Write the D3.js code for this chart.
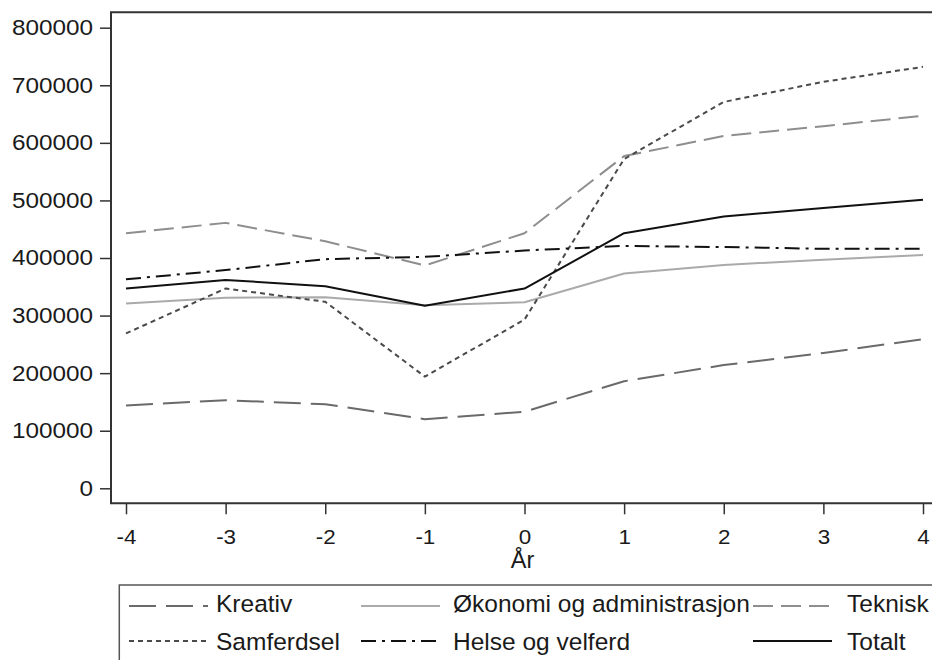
<!DOCTYPE html>
<html>
<head>
<meta charset="utf-8">
<script src="https://cdn.jsdelivr.net/npm/d3@7"></script>
<style>
  html, body { margin: 0; padding: 0; background: #fff; }
  svg { display: block; font-family: "Liberation Sans", Arial, sans-serif; }
</style>
</head>
<body>
<svg id="chart" width="932" height="660"></svg>
<script>
// ---- data ----
const years = [-4, -3, -2, -1, 0, 1, 2, 3, 4];
const kreativ    = [144000, 153000, 146000, 120000, 133000, 186000, 214000, 235000, 259000];
const okonomi    = [321000, 331000, 332000, 318000, 323000, 373000, 388000, 397000, 405000];
const teknisk    = [443000, 461000, 429000, 387000, 443000, 577000, 612000, 629000, 647000];
const samferdsel = [269000, 347000, 324000, 194000, 293000, 572000, 671000, 706000, 732000];
const helse      = [363000, 379000, 398000, 402000, 413000, 421000, 419000, 416000, 416000];
const totalt     = [347000, 362000, 351000, 317000, 347000, 443000, 472000, 487000, 501000];
const yTicks = [0, 100000, 200000, 300000, 400000, 500000, 600000, 700000, 800000];
const seriesNames = ["Kreativ", "Økonomi og administrasjon", "Teknisk", "Samferdsel", "Helse og velferd", "Totalt"];
const xTitle = "År";

// ---- styles ----
const styles = {
  "Kreativ":                   { color: "#6a6a6a", dash: "27,10", width: 2 },
  "Økonomi og administrasjon": { color: "#aaaaaa", dash: null,    width: 2 },
  "Teknisk":                   { color: "#8e8e8e", dash: "20,8",  width: 2 },
  "Samferdsel":                { color: "#4a4a4a", dash: "5,4",   width: 2 },
  "Helse og velferd":          { color: "#111111", dash: "15,6,3,6", width: 2 },
  "Totalt":                    { color: "#111111", dash: null,    width: 2 }
};
const seriesData = {
  "Kreativ": kreativ,
  "Økonomi og administrasjon": okonomi,
  "Teknisk": teknisk,
  "Samferdsel": samferdsel,
  "Helse og velferd": helse,
  "Totalt": totalt
};

(function () {
const svg = d3.select("#chart");
const pLeft = 111, pTop = 12.3, pBottom = 503.3, pRight = 934;

const x = d3.scaleLinear().domain([-4, 4]).range([126, 923]);
const y = d3.scaleLinear().domain([0, 800000]).range([488.3, 27.7]);

// frame
const frameColor = "#333";
svg.append("path")
  .attr("d", `M${pRight},${pTop}H${pLeft}V${pBottom}H${pRight}`)
  .attr("fill", "none").attr("stroke", frameColor).attr("stroke-width", 2);

// y axis
const yAx = svg.append("g").attr("transform", `translate(${pLeft},0)`)
  .call(d3.axisLeft(y).tickValues(yTicks).tickSize(11).tickPadding(7).tickFormat(d3.format("d")));
yAx.select(".domain").remove();
yAx.selectAll(".tick line").attr("stroke", frameColor).attr("stroke-width", 1.5);
yAx.selectAll(".tick text")
  .attr("font-size", 21.5).attr("fill", "#1a1a1a")
  .attr("font-family", "'Liberation Sans', Arial, sans-serif")
  .attr("x", -18 / 1.13)
  .attr("transform", "scale(1.13,1)");

// x axis
const xAx = svg.append("g").attr("transform", `translate(0,${pBottom})`)
  .call(d3.axisBottom(x).tickValues(years).tickSize(11).tickPadding(15.7).tickFormat(d3.format("d")));
xAx.select(".domain").remove();
xAx.selectAll(".tick line").attr("stroke", frameColor).attr("stroke-width", 1.5);
xAx.selectAll(".tick text")
  .attr("font-size", 19.5).attr("fill", "#1a1a1a")
  .attr("font-family", "'Liberation Sans', Arial, sans-serif")
  .attr("transform", "scale(1.15,1)")
  .text(d => d < 0 ? "-" + Math.abs(d) : String(d));

// x title
svg.append("text")
  .attr("x", x(0) - 2).attr("y", 568)
  .attr("text-anchor", "middle")
  .attr("font-size", 23.5).attr("fill", "#1a1a1a")
  .text(xTitle);

// lines
const line = d3.line().x((d, i) => x(years[i])).y(d => y(d));
seriesNames.forEach(name => {
  const s = styles[name];
  svg.append("path")
    .datum(seriesData[name])
    .attr("d", line)
    .attr("fill", "none")
    .attr("stroke", s.color)
    .attr("stroke-width", s.width)
    .attr("stroke-dasharray", s.dash)
    .attr("stroke-linejoin", "round");
});

// legend
const lg = svg.append("g");
lg.append("rect")
  .attr("x", 119.3).attr("y", 585).attr("width", 830).attr("height", 90)
  .attr("fill", "#fff").attr("stroke", "#555").attr("stroke-width", 1.5);

const cols = [
  { k0: 129, k1: 208, tx: 216 },
  { k0: 361, k1: 440, tx: 453 },
  { k0: 753, k1: 832, tx: 847 }
];
const rows = [ { ky: 606, ty: 611.5 }, { ky: 641, ty: 650 } ];
const legendOrder = [
  ["Kreativ", 0, 0], ["Økonomi og administrasjon", 1, 0], ["Teknisk", 2, 0],
  ["Samferdsel", 0, 1], ["Helse og velferd", 1, 1], ["Totalt", 2, 1]
];
legendOrder.forEach(([name, c, r]) => {
  const s = styles[name];
  lg.append("line")
    .attr("x1", cols[c].k0).attr("x2", cols[c].k1)
    .attr("y1", rows[r].ky).attr("y2", rows[r].ky)
    .attr("stroke", s.color).attr("stroke-width", s.width)
    .attr("stroke-dasharray", s.dash);
  lg.append("text")
    .attr("x", cols[c].tx).attr("y", rows[r].ty)
    .attr("font-size", 24.5).attr("fill", "#1a1a1a")
    .text(name);
});
})();
</script>
</body>
</html>
